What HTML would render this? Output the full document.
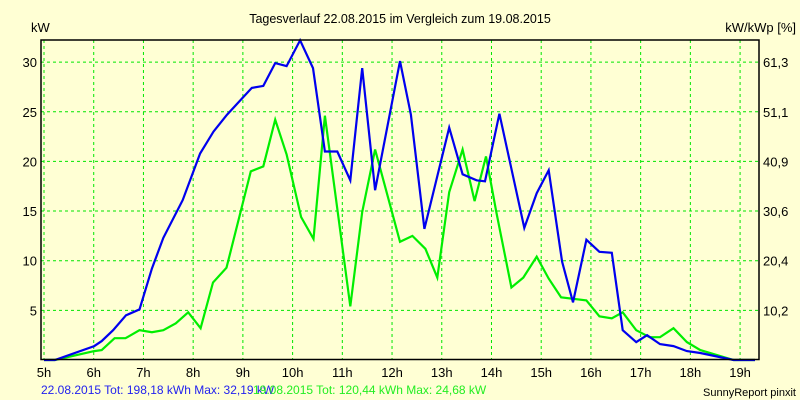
<!DOCTYPE html>
<html><head><meta charset="utf-8"><style>
body{margin:0;background:#ffffd4;}
svg{display:block;font-family:"Liberation Sans",Arial,sans-serif;}
</style></head><body>
<svg width="800" height="400" viewBox="0 0 800 400" xmlns="http://www.w3.org/2000/svg">
<rect width="800" height="400" fill="#ffffd4"/>
<text x="400" y="23" text-anchor="middle" font-size="12.5" fill="#000">Tagesverlauf 22.08.2015 im Vergleich zum 19.08.2015</text>
<text x="31" y="32" font-size="13" fill="#000">kW</text>
<text x="796" y="32" text-anchor="end" font-size="13" fill="#000">kW/kWp [%]</text>
<g id="grid"></g>
<g id="series"></g>
<rect x="41" y="40" width="718" height="319.5" fill="none" stroke="#000" stroke-width="1.5"/>
<g id="labels" font-size="13" fill="#000"></g>
<text x="41" y="394" font-size="12" fill="#2222ee">22.08.2015 Tot: 198,18 kWh Max: 32,19 kW</text>
<text x="253" y="394" font-size="12" fill="#22ee22">19.08.2015 Tot: 120,44 kWh Max: 24,68 kW</text>
<text x="796" y="396" text-anchor="end" font-size="11" fill="#000">SunnyReport pinxit</text>
</svg>
<script>
const hourTicks=[5,6,7,8,9,10,11,12,13,14,15,16,17,18,19];
const yTicks=[5,10,15,20,25,30];
const rightTickLabels=["10,2","20,4","30,6","40,9","51,1","61,3"];
const blueT=[5.0,5.22,6.01,6.16,6.39,6.65,6.92,7.17,7.40,7.79,8.14,8.41,8.68,9.18,9.41,9.65,9.88,10.15,10.41,10.65,10.90,11.16,11.40,11.66,12.16,12.38,12.65,13.15,13.42,13.70,13.87,14.16,14.66,14.91,15.15,15.42,15.64,15.91,16.17,16.42,16.64,16.91,17.13,17.39,17.66,17.93,18.2,18.87,19.3];
const blueV=[0,0,1.4,1.9,3.0,4.5,5.1,9.2,12.3,16.1,20.8,23.0,24.7,27.4,27.6,29.9,29.6,32.2,29.4,21.0,21.0,18.1,29.4,17.1,30.1,24.7,13.2,23.4,18.7,18.1,18.0,24.8,13.3,16.8,19.1,9.9,5.8,12.1,10.9,10.8,3.0,1.8,2.5,1.6,1.4,0.9,0.7,0,0];
const greenT=[5.0,5.22,6.01,6.16,6.42,6.64,6.92,7.17,7.40,7.65,7.90,8.15,8.40,8.67,9.16,9.41,9.65,9.88,10.17,10.42,10.65,11.16,11.40,11.66,12.16,12.41,12.67,12.91,13.15,13.42,13.66,13.89,14.1,14.40,14.64,14.91,15.15,15.40,15.91,16.17,16.42,16.64,16.91,17.18,17.39,17.66,17.93,18.2,18.87,19.3];
const greenV=[0,0,0.9,1.0,2.2,2.2,3.0,2.8,3.0,3.7,4.8,3.2,7.8,9.3,19.0,19.5,24.2,20.7,14.4,12.2,24.6,5.4,14.9,21.2,11.9,12.5,11.2,8.3,16.9,21.2,16.0,20.5,14.8,7.3,8.3,10.4,8.2,6.3,6.0,4.4,4.2,4.8,3.0,2.3,2.3,3.2,1.8,1.0,0,0];
const NS="http://www.w3.org/2000/svg";
const X=t=>44+(t-5)*49.72;
const Y=v=>360-v*9.93;
function mk(tag,attrs,parent){const e=document.createElementNS(NS,tag);for(const k in attrs)e.setAttribute(k,attrs[k]);parent.appendChild(e);return e;}
const grid=document.getElementById('grid'),labels=document.getElementById('labels'),series=document.getElementById('series');
hourTicks.forEach(h=>{
  const l=mk('line',{x1:X(h),x2:X(h),y1:40,y2:359,stroke:'#00e600','stroke-width':1,'stroke-dasharray':'3,3'},grid);
  
  
  const t=mk('text',{x:X(h),y:377,'text-anchor':'middle'},labels);t.textContent=h+'h';
  
  
});
yTicks.forEach((v,i)=>{
  const l=mk('line',{x1:41,x2:759,y1:Y(v),y2:Y(v),stroke:'#00e600','stroke-width':1,'stroke-dasharray':'3,3'},grid);
  
  
  const t=mk('text',{x:37,y:Y(v)+5,'text-anchor':'end'},labels);t.textContent=v;
  
  
  const r=mk('text',{x:763,y:Y(v)+5},labels);r.textContent=rightTickLabels[i];
  
  
});
function line(T,V,color,name){
  const p=mk('polyline',{points:T.map((t,i)=>X(t).toFixed(1)+','+Y(V[i]).toFixed(1)).join(' '),fill:'none',stroke:color,'stroke-width':2.2,'stroke-linejoin':'miter'},series);
  
  
}
line(greenT,greenV,'#00ee00','series-19-08-2015');
line(blueT,blueV,'#0000ee','series-22-08-2015');
</script>
</body></html>
